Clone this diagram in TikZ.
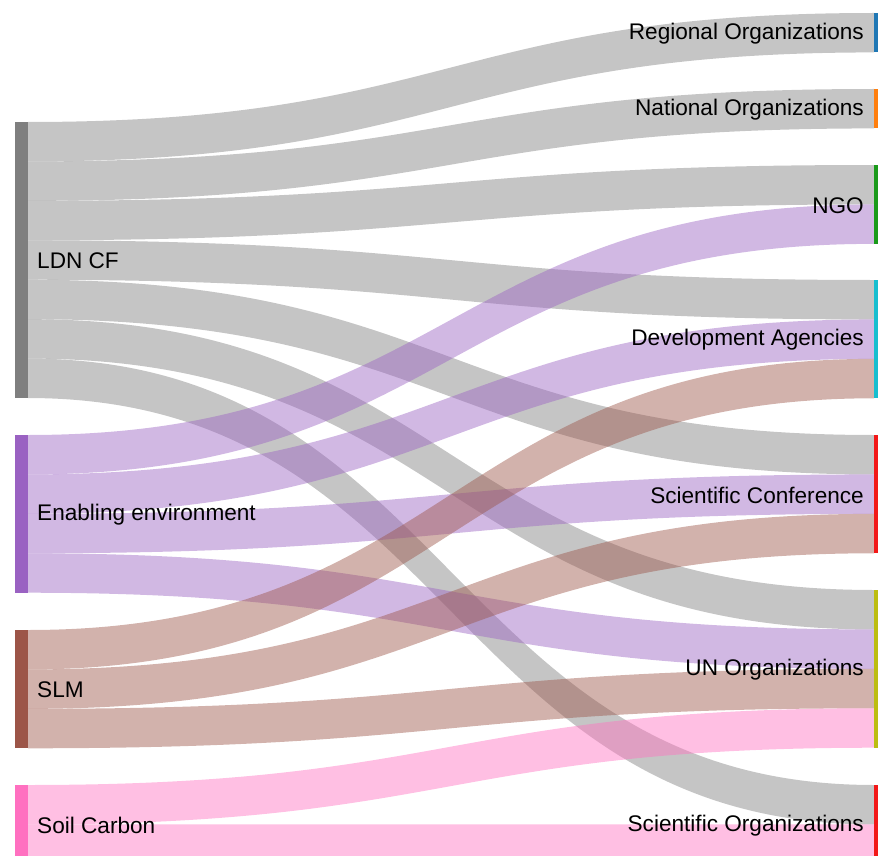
\documentclass[tikz,border=0pt]{standalone}
\usepackage{fontspec}
\setmainfont{Liberation Sans}
\definecolor{cgray}{HTML}{7F7F7F}
\definecolor{cpurple}{HTML}{9A62C2}
\definecolor{cbrown}{HTML}{9C5548}
\definecolor{cpink}{HTML}{FF70C0}
\definecolor{cblue}{HTML}{1F77B4}
\definecolor{corange}{HTML}{FF7F0E}
\definecolor{cgreen}{HTML}{1A9A1A}
\definecolor{ccyan}{HTML}{17BECF}
\definecolor{cred}{HTML}{F21818}
\definecolor{colive}{HTML}{BCBD10}
\newcommand{\uu}{39.43}
% \lnk{color}{source top}{target top}
\newcommand{\lnk}[3]{%
  \fill[#1, fill opacity=0.45] (28,#2) .. controls (451,#2) and (451,#3) .. (874,#3)
    -- (874,#3+\uu) .. controls (451,#3+\uu) and (451,#2+\uu) .. (28,#2+\uu) -- cycle;}
\tikzset{
  bar/.style={draw=none, fill=#1, inner sep=0pt, outer sep=0pt, minimum width=13pt, anchor=north west},
  lbl/.style={font=\fontsize{22.6}{24}\selectfont, inner sep=0pt, text=black}
}
\begin{document}
\begin{tikzpicture}[x=1pt,y=-1pt]
\useasboundingbox (0,0) rectangle (878,856);
\clip (0,0) rectangle (878,856);
% links: LDN CF
\lnk{cgray}{122}{13}
\lnk{cgray}{161.43}{89}
\lnk{cgray}{200.86}{165}
\lnk{cgray}{240.29}{280}
\lnk{cgray}{279.72}{435}
\lnk{cgray}{319.15}{590}
\lnk{cgray}{358.58}{785}
% Enabling environment
\lnk{cpurple}{435}{204.43}
\lnk{cpurple}{474.43}{319.43}
\lnk{cpurple}{513.86}{474.43}
\lnk{cpurple}{553.29}{629.43}
% SLM
\lnk{cbrown}{630}{358.86}
\lnk{cbrown}{669.43}{513.86}
\lnk{cbrown}{708.86}{668.86}
% Soil Carbon
\lnk{cpink}{785}{708.29}
\lnk{cpink}{824.43}{824.43}
% left nodes
\node[bar=cgray, minimum height=276pt] (ldn) at (15,122) {};
\node[bar=cpurple, minimum height=157.7pt] (ee) at (15,435) {};
\node[bar=cbrown, minimum height=118.3pt] (slm) at (15,630) {};
\node[bar=cpink, minimum height=78.9pt] (sc) at (15,785) {};
% right nodes
\node[bar=cblue, minimum height=39.4pt] (reg) at (874,13) {};
\node[bar=corange, minimum height=39.4pt] (nat) at (874,89) {};
\node[bar=cgreen, minimum height=78.9pt] (ngo) at (874,165) {};
\node[bar=ccyan, minimum height=118.3pt] (dev) at (874,280) {};
\node[bar=cred, minimum height=118.3pt] (scf) at (874,435) {};
\node[bar=colive, minimum height=157.7pt] (un) at (874,590) {};
\node[bar=cred, minimum height=78.9pt] (sco) at (874,785) {};
% labels
\node[lbl, anchor=west] at ([xshift=9pt,yshift=-1pt]ldn.east) {LDN CF};
\node[lbl, anchor=west] at ([xshift=9pt,yshift=-1pt]ee.east) {Enabling environment};
\node[lbl, anchor=west] at ([xshift=9pt,yshift=-1pt]slm.east) {SLM};
\node[lbl, anchor=west] at ([xshift=9pt,yshift=-1pt]sc.east) {Soil Carbon};
\node[lbl, anchor=east] at ([xshift=-10pt,yshift=-1pt]reg.west) {Regional Organizations};
\node[lbl, anchor=east] at ([xshift=-10pt,yshift=-1pt]nat.west) {National Organizations};
\node[lbl, anchor=east] at ([xshift=-10pt,yshift=-1pt]ngo.west) {NGO};
\node[lbl, anchor=east] at ([xshift=-10pt,yshift=-1pt]dev.west) {Development Agencies};
\node[lbl, anchor=east] at ([xshift=-10pt,yshift=-1pt]scf.west) {Scientific Conference};
\node[lbl, anchor=east] at ([xshift=-10pt,yshift=-1pt]un.west) {UN Organizations};
\node[lbl, anchor=east] at ([xshift=-10pt,yshift=-1pt]sco.west) {Scientific Organizations};
\end{tikzpicture}
\end{document}
